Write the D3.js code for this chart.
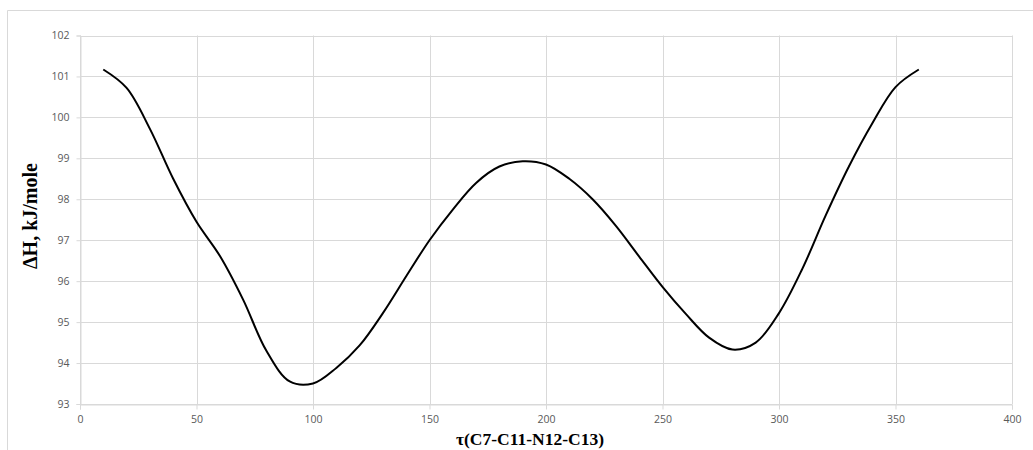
<!DOCTYPE html>
<html lang="en">
	<head>
		<meta charset="UTF-8">
		<title>Enthalpy vs torsion angle</title>
		<script src="https://d3js.org/d3.v7.min.js"></script>
		<style>
			body { margin: 0; background: #fff; }
			.tick text { font-family: "Open Sans", "Liberation Sans", sans-serif; font-size: 10.5px; fill: #595959; }
		</style>
	</head>
	<body>
		<div id="chart"></div>

		<script type="text/javascript">
			// Torsion angle (deg) and enthalpy (kJ/mole)
			const angles = [10, 20, 30, 40, 50, 60, 70, 80, 90, 100, 110, 120, 130, 140, 150, 160, 170, 180,
				190, 200, 210, 220, 230, 240, 250, 260, 270, 280, 290, 300, 310, 320, 330, 340, 350, 360];
			const enthalpy = [101.17, 100.72, 99.72, 98.5, 97.45, 96.62, 95.55, 94.3, 93.55, 93.5, 93.88, 94.43,
				95.22, 96.12, 97.0, 97.75, 98.4, 98.8, 98.93, 98.85, 98.5, 98.0, 97.35, 96.6, 95.86, 95.2, 94.62,
				94.33, 94.5, 95.22, 96.3, 97.6, 98.8, 99.85, 100.74, 101.17];
			const xTicks = [0, 50, 100, 150, 200, 250, 300, 350, 400];
			const yTicks = [93, 94, 95, 96, 97, 98, 99, 100, 101, 102];

			const data = angles.map((a, i) => ({ x: a, y: enthalpy[i] }));

			const W = 1033, H = 450;
			const margin = { top: 35.5, right: 21, bottom: 46, left: 80 };

			const svg = d3.select('#chart')
				.append('svg')
				.attr('width', W)
				.attr('height', H);

			// chart area frame (top and left edges visible)
			svg.append('path')
				.attr('d', `M7.5,${H} V10.5 H${W}`)
				.attr('fill', 'none')
				.attr('stroke', '#d9d9d9')
				.attr('stroke-width', 1);

			const xScale = d3.scaleLinear()
				.domain([0, 400])
				.range([margin.left, W - margin.right]);

			const yScale = d3.scaleLinear()
				.domain([93, 102])
				.range([H - margin.bottom, margin.top]);

			// gridlines
			svg.append('g')
				.selectAll('line.hg')
				.data(yTicks)
				.enter()
				.append('line')
				.attr('x1', xScale(0))
				.attr('x2', xScale(400))
				.attr('y1', d => Math.round(yScale(d)) + 0.5)
				.attr('y2', d => Math.round(yScale(d)) + 0.5)
				.attr('stroke', '#d9d9d9');

			svg.append('g')
				.selectAll('line.vg')
				.data(xTicks)
				.enter()
				.append('line')
				.attr('x1', d => Math.round(xScale(d)) + 0.5)
				.attr('x2', d => Math.round(xScale(d)) + 0.5)
				.attr('y1', yScale(102))
				.attr('y2', yScale(93))
				.attr('stroke', '#d9d9d9');

			// axes
			const xAxis = d3.axisBottom(xScale)
				.tickValues(xTicks)
				.tickSize(5)
				.tickPadding(6);
			const yAxis = d3.axisLeft(yScale)
				.tickValues(yTicks)
				.tickSize(4)
				.tickPadding(7);

			const gx = svg.append('g')
				.attr('transform', `translate(0,${Math.round(yScale(93)) + 0.5})`)
				.call(xAxis);
			const gy = svg.append('g')
				.attr('transform', `translate(${Math.round(xScale(0)) + 0.5},0)`)
				.call(yAxis);

			[gx, gy].forEach(g => {
				g.select('.domain').attr('stroke', '#d9d9d9');
				g.selectAll('.tick line').attr('stroke', '#d9d9d9');
			});

			// curve
			const line = d3.line()
				.x(d => xScale(d.x))
				.y(d => yScale(d.y))
				.curve(d3.curveCatmullRom.alpha(0.5));

			svg.append('path')
				.datum(data)
				.attr('d', line)
				.attr('fill', 'none')
				.attr('stroke', '#000')
				.attr('stroke-width', 2);

			// axis titles
			svg.append('text')
				.attr('x', 530)
				.attr('y', 445)
				.attr('text-anchor', 'middle')
				.style('font-family', '"Liberation Serif", "Times New Roman", serif')
				.style('font-weight', 'bold')
				.style('font-size', '17.5px')
				.text('τ(C7-C11-N12-C13)');

			svg.append('text')
				.attr('transform', 'translate(37,216) rotate(-90)')
				.attr('text-anchor', 'middle')
				.style('font-family', '"Liberation Serif", "Times New Roman", serif')
				.style('font-weight', 'bold')
				.style('font-size', '20px')
				.text('ΔH, kJ/mole');
		</script>
	</body>
</html>
